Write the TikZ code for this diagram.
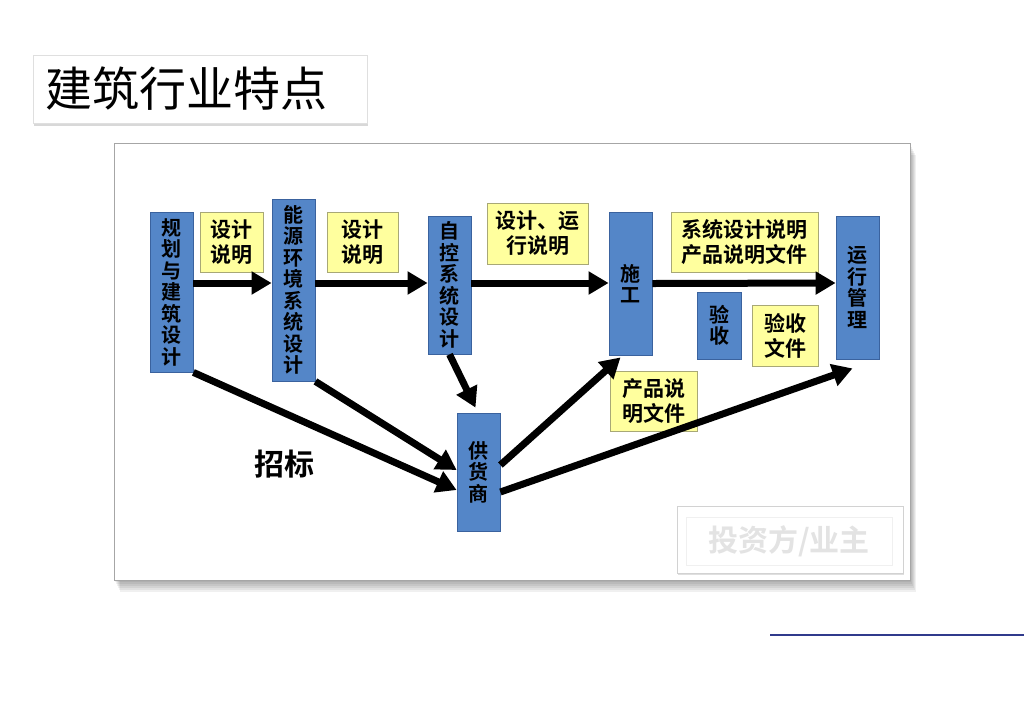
\documentclass[tikz,border=0pt]{standalone}
\usepackage{fontspec}
\newfontfamily\cjk{Noto Sans CJK SC}[BoldFont={Noto Sans CJK SC Bold}]
\usepackage{xcolor}
\usetikzlibrary{arrows.meta,shadows,positioning,calc}
\definecolor{boxblue}{RGB}{84,134,200}
\definecolor{boxline}{RGB}{58,98,158}
\definecolor{noteyel}{RGB}{255,255,158}
\definecolor{noteline}{RGB}{168,168,118}
\definecolor{navy}{RGB}{48,58,140}

\begin{document}
\begin{tikzpicture}[x=1pt,y=-1pt,>={Triangle[length=20pt,width=22pt]},inner sep=0pt]
	\tikzstyle{blk}=[draw=boxline, fill=boxblue, line width=0.8pt, minimum width=43pt, align=center, font=\cjk\bfseries\fontsize{20}{21.5}\selectfont]
	\tikzstyle{note}=[draw=noteline, fill=noteyel, line width=0.8pt, align=center, font=\cjk\bfseries\fontsize{21}{25}\selectfont]
	\tikzstyle{arw}=[->, line width=7pt, black]
	\useasboundingbox[fill=white] (0,0) rectangle (1024,724);
		\node[draw=gray!25, fill=white, minimum width=334pt, minimum height=68pt, text width=310pt, inner xsep=12pt, align=left,
			drop shadow={shadow xshift=1pt, shadow yshift=-3pt, opacity=0.3}, font=\cjk\fontsize{47}{47}\selectfont] (T) at (200,89) {建筑行业特点};
		\foreach \s in {2,4,...,12}
			\fill[black, opacity=0.06] (114+\s/2,143+\s) rectangle (910+\s/2,580+\s);
		\node[draw=gray!70, fill=white, minimum width=796pt, minimum height=437pt] (P) at (512,361.5) {};
			 \node[blk, minimum height=160pt] (A) at (171.5,292) {规\\划\\与\\建\\筑\\设\\计};
			 \node[blk, minimum height=182pt] (B) at (293.5,290) {能\\源\\环\\境\\系\\统\\设\\计};
			 \node[blk, minimum height=138pt] (C) at (449.5,285) {自\\控\\系\\统\\设\\计};
			 \node[blk, minimum height=143pt] (D) at (630.5,283.5) {施\\工};
			 \node[blk, minimum width=44pt, minimum height=67pt] (E) at (719,325.5) {验\\收};
			 \node[blk, minimum height=143pt] (F) at (857.5,287.5) {运\\行\\管\\理};
			 \node[blk, minimum height=118pt] (G) at (478.5,472) {供\\货\\商};
			 \node[note, minimum width=63pt, minimum height=60pt] (N1) at (231.5,242) {设计\\说明};
			 \node[note, minimum width=71pt, minimum height=60pt] (N2) at (362.5,242) {设计\\说明};
			 \node[note, minimum width=101pt, minimum height=61pt] (N3) at (537.5,233.5) {设计、运\\行说明};
			 \node[note, minimum width=147pt, minimum height=60pt] (N4) at (744.5,242) {系统设计说明\\产品说明文件};
			 \node[note, minimum width=66pt, minimum height=61pt] (N5) at (785,335.5) {验收\\文件};
			 \node[note, minimum width=87pt, minimum height=60pt] (N6) at (653.5,401) {产品说\\明文件};
			 \node[font=\cjk\bfseries\fontsize{30}{30}\selectfont] (Z) at (284,464) {招标};
			 \node[draw=gray!35, fill=white, minimum width=226pt, minimum height=67pt,
			 	drop shadow={shadow xshift=1pt, shadow yshift=-2pt, opacity=0.25}] (I) at (790,539.5) {};
			 \node[draw=gray!12, minimum width=206pt, minimum height=48pt, text=gray!22, font=\cjk\bfseries\fontsize{30}{30}\selectfont] (IT) at (789,541) {投资方/业主};
			 \path[arw]
			 ([yshift=9pt]A.east) edge ([yshift=7pt]B.west)
			 ([yshift=7pt]B.east) edge ([yshift=2pt]C.west)
			 ([yshift=2pt]C.east) edge ([yshift=0.5pt]D.west)
			 (D.east) edge ([yshift=4.5pt]F.west)
			 (A.south east) edge ([yshift=-18pt]G.west)
			 (B.south east) edge ([yshift=2pt]G.west)
			 (C.south) edge ([xshift=-3pt,yshift=5pt]G.north)
			 ([yshift=7pt]G.east) edge ([xshift=-10pt,yshift=-2pt]D.south)
			 ([yshift=-20pt]G.east) edge ([xshift=-5pt,yshift=-9pt]F.south);
	\draw[navy, line width=2pt] (770,635) -- (1024,635);
\end{tikzpicture}
\end{document}
